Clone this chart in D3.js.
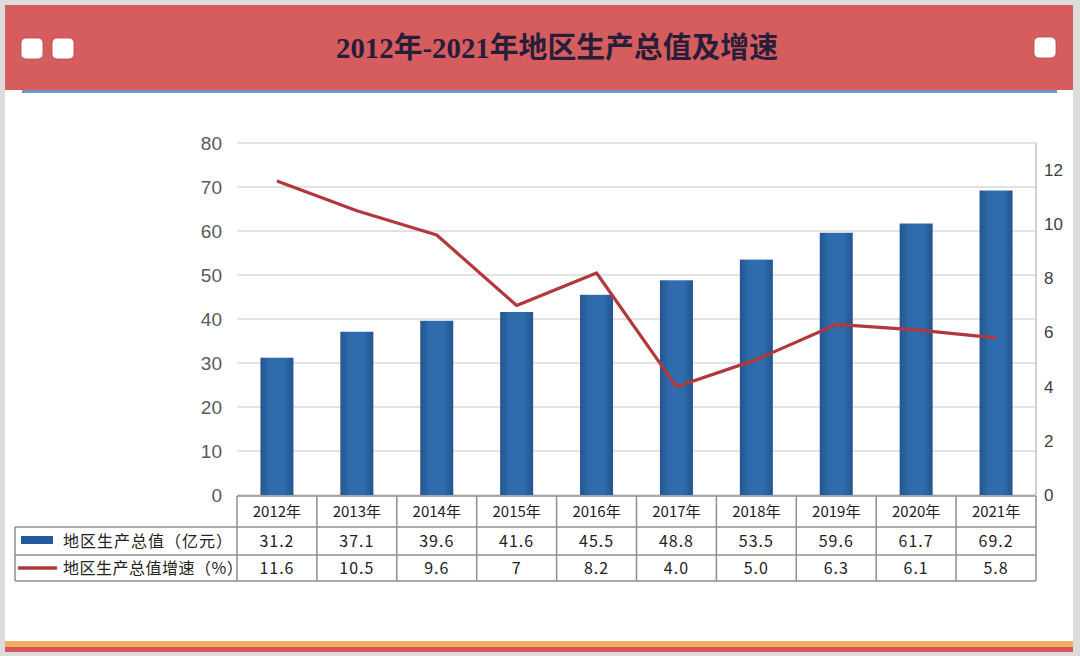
<!DOCTYPE html>
<html><head><meta charset="utf-8">
<script src="https://cdn.jsdelivr.net/npm/d3@7"></script>
<style>
html,body{margin:0;padding:0;background:#dddcdc;}
svg{display:block;}
</style></head>
<body>
<svg id="chart" width="1080" height="656"></svg>
<script>
const title = "2012年-2021年地区生产总值及增速";
const years = ["2012年","2013年","2014年","2015年","2016年","2017年","2018年","2019年","2020年","2021年"];
const gdp = [31.2, 37.1, 39.6, 41.6, 45.5, 48.8, 53.5, 59.6, 61.7, 69.2];
const gdpLabels = ["31.2","37.1","39.6","41.6","45.5","48.8","53.5","59.6","61.7","69.2"];
const growth = [11.6, 10.5, 9.6, 7, 8.2, 4.0, 5.0, 6.3, 6.1, 5.8];
const growthLabels = ["11.6","10.5","9.6","7","8.2","4.0","5.0","6.3","6.1","5.8"];
const seriesNames = ["地区生产总值（亿元）", "地区生产总值增速（%）"];
const leftTicks = [0,10,20,30,40,50,60,70,80];
const rightTicks = [0,2,4,6,8,10,12];

const svg = d3.select("#chart");
const W = 1080, H = 656;

// page background / frame
svg.append("rect").attr("x",0).attr("y",0).attr("width",W).attr("height",H).attr("fill","#dddcdc");
svg.append("rect").attr("x",5).attr("y",5).attr("width",1068).attr("height",647).attr("fill","#ffffff");
// header band
svg.append("rect").attr("x",5).attr("y",5).attr("width",1068).attr("height",85).attr("fill","#d55d5e");
svg.append("rect").attr("x",22).attr("y",90).attr("width",1035).attr("height",3).attr("fill","#6f93cf");
// white rounded squares
[[21,38],[52,38],[1034,37]].forEach(([x,y])=>{
  svg.append("rect").attr("x",x).attr("y",y).attr("width",22).attr("height",21).attr("rx",5)
    .attr("fill","#ffffff").attr("stroke","#b84a4b").attr("stroke-width",0.8);
});
svg.append("text").attr("x",557).attr("y",58).attr("text-anchor","middle")
  .attr("font-family","'Liberation Serif','Noto Sans CJK SC',serif").attr("font-weight","bold")
  .attr("font-size",29).attr("fill","#2a1d3a").attr("textLength",442).attr("lengthAdjust","spacingAndGlyphs")
  .text(title);
// bottom stripes
svg.append("rect").attr("x",5).attr("y",641).attr("width",1068).attr("height",6).attr("fill","#f0b063");
svg.append("rect").attr("x",5).attr("y",647).attr("width",1068).attr("height",5).attr("fill","#d9545a");

// scales
const x0 = 237, x1 = 1036, yTop = 143, yBot = 495;
const x = d3.scaleBand().domain(years).range([x0, x1]).padding(0);
const yL = d3.scaleLinear().domain([0,80]).range([yBot, yTop]);
const yR = d3.scaleLinear().domain([0,13]).range([yBot, yTop]);

// gradient for bars
const defs = svg.append("defs");
const grad = defs.append("linearGradient").attr("id","barGrad").attr("x1","0").attr("x2","1").attr("y1","0").attr("y2","0");
grad.append("stop").attr("offset","0%").attr("stop-color","#24558f");
grad.append("stop").attr("offset","30%").attr("stop-color","#2f6cad");
grad.append("stop").attr("offset","70%").attr("stop-color","#2f6cad");
grad.append("stop").attr("offset","100%").attr("stop-color","#24558f");

// gridlines
svg.append("g").selectAll("line").data(leftTicks).join("line")
  .attr("x1",x0).attr("x2",x1).attr("y1",d=>yL(d)).attr("y2",d=>yL(d))
  .attr("stroke","#d9d9d9").attr("stroke-width",1.5);
svg.append("line").attr("x1",x1).attr("x2",x1).attr("y1",yTop).attr("y2",yBot).attr("stroke","#c0c0c0").attr("stroke-width",1.5);

// left axis
const axL = d3.axisLeft(yL).tickValues(leftTicks).tickSize(0).tickPadding(0);
const gL = svg.append("g").attr("transform",`translate(${222},0)`).call(axL);
gL.select(".domain").remove();
gL.selectAll("text").attr("font-family","'Liberation Sans',Arial,sans-serif").attr("font-size",19).attr("fill","#595959");
// right axis
const axR = d3.axisRight(yR).tickValues(rightTicks).tickSize(0).tickPadding(0);
const gR = svg.append("g").attr("transform",`translate(${1044},0)`).call(axR);
gR.select(".domain").remove();
gR.selectAll("text").attr("font-family","'Liberation Sans',Arial,sans-serif").attr("font-size",17).attr("fill","#404040");

// bars
const bw = 33;
svg.append("g").selectAll("rect").data(gdp).join("rect")
  .attr("x",(d,i)=>x(years[i]) + x.bandwidth()/2 - bw/2)
  .attr("width",bw)
  .attr("y",d=>yL(d)).attr("height",d=>yBot - yL(d))
  .attr("fill","url(#barGrad)");

// line
const line = d3.line().x((d,i)=>x(years[i]) + x.bandwidth()/2).y(d=>yR(d));
svg.append("path").datum(growth).attr("d",line).attr("fill","none")
  .attr("stroke","#b3383d").attr("stroke-width",3.2).attr("stroke-linejoin","round");

// table
const rowY = [496, 527, 555, 581];
const tbl = svg.append("g").attr("stroke","#8f8f8f").attr("stroke-width",1.5);
// horizontal lines
tbl.append("line").attr("x1",x0).attr("x2",x1).attr("y1",rowY[0]).attr("y2",rowY[0]);
[rowY[1],rowY[2],rowY[3]].forEach(yy=>tbl.append("line").attr("x1",15).attr("x2",x1).attr("y1",yy).attr("y2",yy));
// vertical lines
tbl.append("line").attr("x1",15).attr("x2",15).attr("y1",rowY[1]).attr("y2",rowY[3]);
years.forEach(y=>tbl.append("line").attr("x1",x(y)).attr("x2",x(y)).attr("y1",rowY[0]).attr("y2",rowY[3]));
tbl.append("line").attr("x1",x1).attr("x2",x1).attr("y1",rowY[0]).attr("y2",rowY[3]);

const tf = "'Noto Sans CJK SC','Liberation Sans',sans-serif";
svg.append("g").selectAll("text").data(years).join("text")
  .attr("x",d=>x(d)+x.bandwidth()/2).attr("y",(rowY[0]+rowY[1])/2+5.5)
  .attr("text-anchor","middle").attr("font-family",tf).attr("font-size",15).attr("fill","#222")
  .text(d=>d);
svg.append("g").selectAll("text").data(gdpLabels).join("text")
  .attr("x",(d,i)=>x(years[i])+x.bandwidth()/2).attr("y",(rowY[1]+rowY[2])/2+6)
  .attr("text-anchor","middle").attr("font-family",tf).attr("font-size",16).attr("fill","#222")
  .attr("letter-spacing",1).text(d=>d);
svg.append("g").selectAll("text").data(growthLabels).join("text")
  .attr("x",(d,i)=>x(years[i])+x.bandwidth()/2).attr("y",(rowY[2]+rowY[3])/2+6)
  .attr("text-anchor","middle").attr("font-family",tf).attr("font-size",16).attr("fill","#222")
  .attr("letter-spacing",1).text(d=>d);

// legend in table
svg.append("rect").attr("x",21).attr("y",536).attr("width",32).attr("height",8).attr("fill","#24589a");
svg.append("line").attr("x1",18).attr("x2",57).attr("y1",568).attr("y2",568).attr("stroke","#b3383d").attr("stroke-width",3.5);
svg.append("text").attr("x",63).attr("y",547).attr("font-family",tf).attr("font-size",16).attr("fill","#222")
  .attr("letter-spacing",1).text(seriesNames[0]);
svg.append("text").attr("x",63).attr("y",574).attr("font-family",tf).attr("font-size",16).attr("fill","#222")
  .attr("letter-spacing",0.5).text(seriesNames[1]);
</script>
</body></html>
